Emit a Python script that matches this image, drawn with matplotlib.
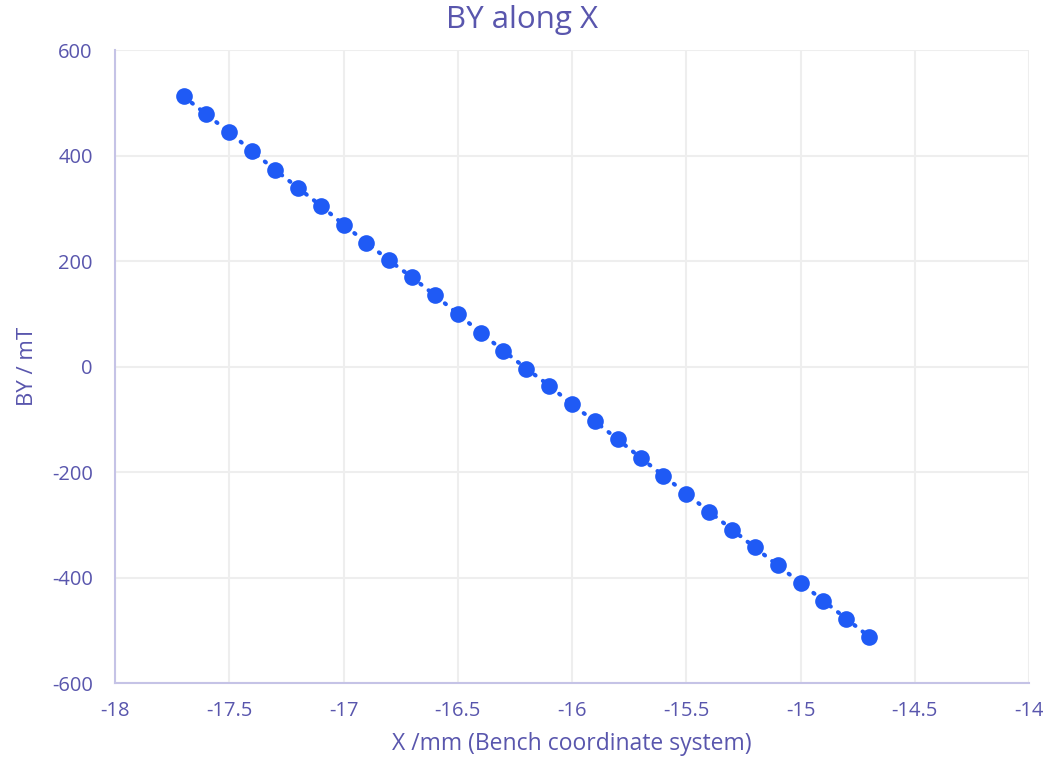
import matplotlib
matplotlib.use("Agg")
import matplotlib.pyplot as plt

x_mm = [-17.7, -17.6, -17.5, -17.4, -17.3, -17.2, -17.1, -17.0, -16.9, -16.8,
        -16.7, -16.6, -16.5, -16.4, -16.3, -16.2, -16.1, -16.0, -15.9, -15.8,
        -15.7, -15.6, -15.5, -15.4, -15.3, -15.2, -15.1, -15.0, -14.9, -14.8, -14.7]
by_mT = [512, 478, 444, 408, 373, 339, 305, 269, 235, 201,
         169, 135, 100, 64, 30, -4, -36, -72, -104, -138,
         -173, -207, -241, -275, -309, -343, -377, -410, -444, -478, -512]
x_ticks = [-18, -17.5, -17, -16.5, -16, -15.5, -15, -14.5, -14]
y_ticks = [-600, -400, -200, 0, 200, 400, 600]

txt = "#5956ad"
plt.rcParams['font.family'] = ['Open Sans', 'DejaVu Sans']
plt.rcParams['axes.unicode_minus'] = False

fig = plt.figure(figsize=(10.43, 7.67), dpi=100)
ax = fig.add_axes([0.1103, 0.1095, 0.8763, 0.8253])
ax.plot(x_mm, by_mT, linestyle=(0, (0.3, 2.2)), dash_capstyle='round', color='#1f5af5',
        linewidth=3, marker='o', markersize=12, markeredgewidth=0, zorder=3)
ax.set_xlim(-18, -14)
ax.set_ylim(-600, 600)
ax.set_xticks(x_ticks)
ax.set_xticklabels([f"{t:g}" for t in x_ticks])
ax.set_yticks(y_ticks)
ax.grid(True, color='#eeeeee', linewidth=1.5)
ax.set_axisbelow(True)
for s in ['top', 'right']:
    ax.spines[s].set_visible(False)
for s in ['left', 'bottom']:
    ax.spines[s].set_color('#c5c3e6')
    ax.spines[s].set_linewidth(1.5)
ax.tick_params(axis='x', length=0, labelsize=14.5, colors=txt, pad=13)
ax.tick_params(axis='y', length=0, labelsize=14.5, colors=txt, pad=16)
fig.suptitle("BY along X", color=txt, fontsize=22.5, x=0.5, y=0.993, va='top')
ax.set_xlabel("X /mm (Bench coordinate system)", color=txt, fontsize=16.5, labelpad=8)
ax.set_ylabel("BY / mT", color=txt, fontsize=16, labelpad=10)
fig.savefig("out.png", dpi=100)
